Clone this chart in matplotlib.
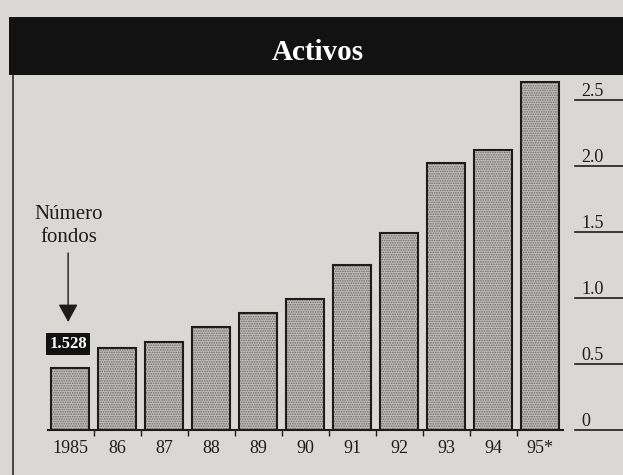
import matplotlib
matplotlib.use("Agg")
import matplotlib.pyplot as plt
from matplotlib.patches import Rectangle
from matplotlib.lines import Line2D

# ---- data ----
years = ["1985", "86", "87", "88", "89", "90", "91", "92", "93", "94", "95*"]
activos = [0.47, 0.62, 0.67, 0.78, 0.89, 0.99, 1.25, 1.49, 2.02, 2.12, 2.64]
scale_ticks = [0, 0.5, 1.0, 1.5, 2.0, 2.5]
scale_labels = ["0", "0.5", "1.0", "1.5", "2.0", "2.5"]
first_label = "1.528"
title = "Activos"
note = "Número\nfondos"

plt.rcParams['font.family'] = ['Liberation Serif', 'DejaVu Serif']
plt.rcParams['hatch.linewidth'] = 0.8

W, H = 623, 475
paper = '#dad8d4'
fig = plt.figure(figsize=(W / 100, H / 100), dpi=100, facecolor=paper)

def fx(px):
    return px / W
def fy(py):
    return 1 - py / H

# banner
fig.add_artist(Rectangle((fx(9), fy(75)), 1 - fx(9), fy(17) - fy(75),
                         transform=fig.transFigure, facecolor='#121212',
                         edgecolor='none', zorder=0))
fig.text(fx(318), fy(52), title, color='white', fontsize=21, fontweight='bold',
         ha='center', va='center')
# left frame line
fig.add_artist(Line2D([fx(13), fx(13)], [fy(75), 0], transform=fig.transFigure,
                      color='#2a2a2a', lw=1.2))

# axes mapped so that bar i centre sits at 70 + 47*i px, y=0 at 430 px
pitch, x0 = 47.0, 70.0
ppu = 132.0
xl = ((13 - x0) / pitch, (W - x0) / pitch)
ytop = 2.75
ax = fig.add_axes([fx(13), 1 - 430 / H, 1 - fx(13), ytop * ppu / H])
ax.set_xlim(*xl)
ax.set_ylim(0, ytop)
ax.patch.set_visible(False)

x = list(range(len(years)))
ax.bar(x, activos, width=0.79, color='#c0bebb', hatch='.......',
       edgecolor='#6a6a6a', linewidth=0, zorder=2)
ax.bar(x, activos, width=0.79, fill=False, edgecolor='#1c1c1c',
       linewidth=1.5, zorder=3)

for s in ['top', 'right', 'left']:
    ax.spines[s].set_visible(False)
ax.spines['bottom'].set_bounds((48 - x0) / pitch, (563 - x0) / pitch)
ax.spines['bottom'].set_linewidth(1.5)
ax.spines['bottom'].set_color('#1c1c1c')
ax.set_yticks([])
ax.set_xticks(x)
ax.set_xticklabels(years, fontsize=13)
ax.tick_params(axis='x', which='major', length=0, pad=7, colors='#1c1c1c')
ax.set_xticks([i + 0.5 for i in x[:-1]], minor=True)
ax.tick_params(axis='x', which='minor', length=4, width=1, direction='out',
               color='#1c1c1c')

# right-hand scale with underlines
xs_lab = (581 - x0) / pitch
xs_line = (575 - x0) / pitch
for v, lab in zip(scale_ticks, scale_labels):
    ax.plot([xs_line, xl[1]], [v, v], color='#1c1c1c', lw=1.2, clip_on=False,
            zorder=4)
    ax.text(xs_lab, v + 4 / ppu, lab, fontsize=13, ha='left', va='baseline',
            color='#1c1c1c')

# annotation: number of funds
ax.text(-0.02, (430 - 226) / ppu, note, fontsize=15, ha='center', va='center',
        linespacing=1.3, color='#1c1c1c')
ax.annotate('', xy=(-0.04, (430 - 322) / ppu), xytext=(-0.04, (430 - 253) / ppu),
            arrowprops=dict(arrowstyle='-|>,head_length=0.55,head_width=0.3',
                            mutation_scale=20, lw=1, color='#1c1c1c',
                            shrinkA=0, shrinkB=0))
ax.text(-0.04, (430 - 344) / ppu, first_label, fontsize=12, fontweight='bold',
        color='white', ha='center', va='center', zorder=5,
        bbox=dict(boxstyle='square,pad=0.2', facecolor='#111111',
                  edgecolor='none'))

fig.savefig('out.png', dpi=100, facecolor=paper)
